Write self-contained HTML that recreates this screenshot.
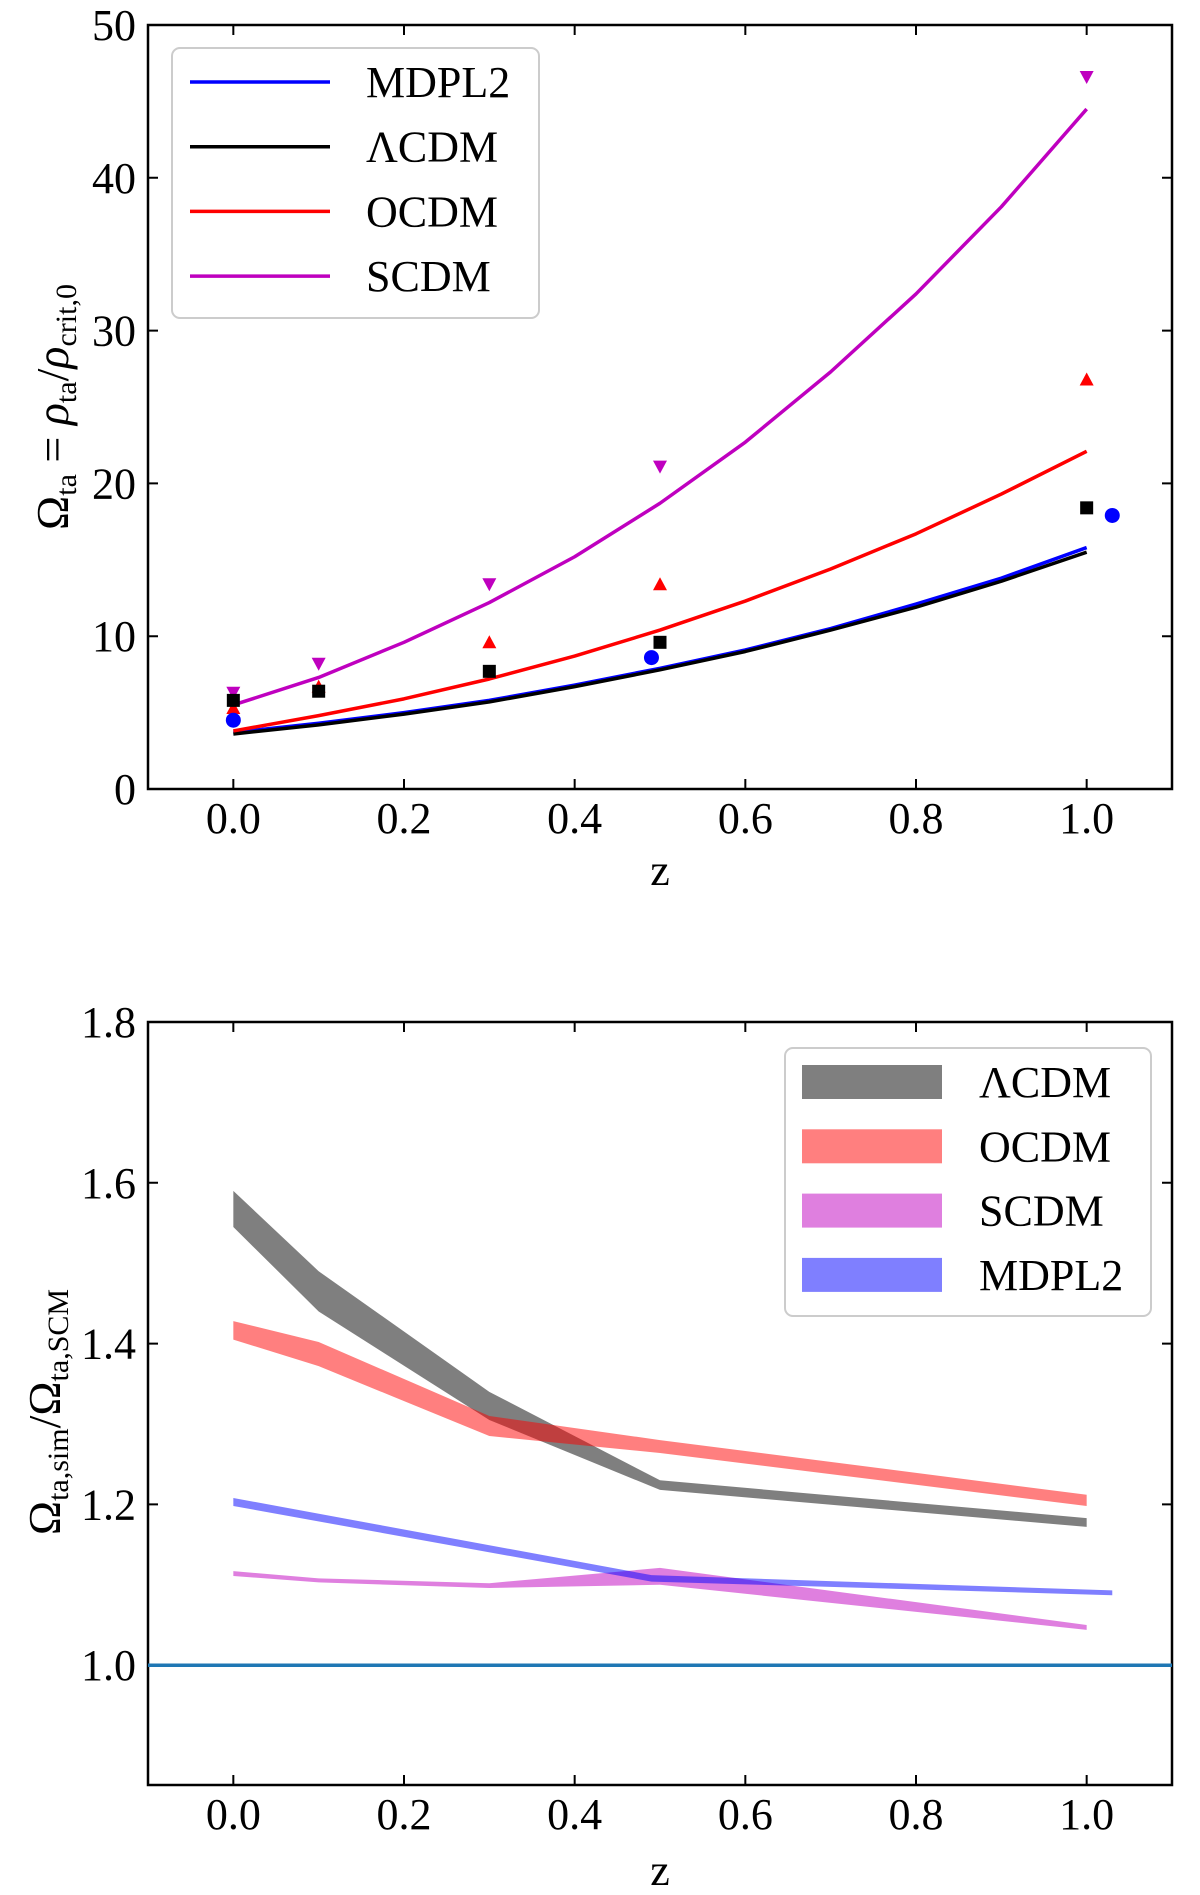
<!DOCTYPE html>
<html><head><meta charset="utf-8"><style>
html,body{margin:0;padding:0;background:#fff}
svg{display:block;font-family:"Liberation Serif","DejaVu Serif",serif}
</style></head><body>
<svg id="fig" width="1200" height="1895" viewBox="0 0 1200 1895" xmlns="http://www.w3.org/2000/svg"></svg>
<script>
// ---- Top panel data ----
const zLine = [0,0.1,0.2,0.3,0.4,0.5,0.6,0.7,0.8,0.9,1.0];
const scdmLine = [5.5,7.3,9.6,12.2,15.2,18.7,22.7,27.3,32.4,38.1,44.5];
const ocdmLine = [3.8,4.8,5.9,7.2,8.7,10.4,12.3,14.4,16.7,19.3,22.1];
const lcdmLine = [3.6,4.2,4.9,5.7,6.7,7.8,9.0,10.4,11.9,13.6,15.5];
const mdplLine = [3.7,4.3,5.0,5.8,6.8,7.9,9.1,10.5,12.1,13.8,15.8];
const zPts = [0,0.1,0.3,0.5,1.0];
const scdmPts = [6.3,8.2,13.4,21.1,46.6];
const ocdmPts = [5.3,6.7,9.6,13.4,26.8];
const lcdmPts = [5.8,6.4,7.7,9.6,18.4];
const zMd = [0,0.49,1.03];
const mdplPts = [4.5,8.6,17.9];
const xTicks = [0,0.2,0.4,0.6,0.8,1.0];
const xTickLabels = ["0.0","0.2","0.4","0.6","0.8","1.0"];
const yTicksTop = [0,10,20,30,40,50];
// ---- Bottom panel data ----
const zBand = [0,0.1,0.3,0.5,1.0];
const lcdmLo = [1.545,1.44,1.305,1.218,1.172];
const lcdmHi = [1.59,1.49,1.34,1.23,1.183];
const ocdmLo = [1.405,1.372,1.285,1.264,1.198];
const ocdmHi = [1.428,1.402,1.31,1.28,1.212];
const scdmLo = [1.111,1.103,1.096,1.1,1.044];
const scdmHi = [1.117,1.108,1.102,1.121,1.05];
const zMdBand = [0,0.49,1.03];
const mdplLo = [1.198,1.104,1.087];
const mdplHi = [1.208,1.112,1.093];
const yTicksBot = [1.0,1.2,1.4,1.6,1.8];
const yTickLabelsBot = ["1.0","1.2","1.4","1.6","1.8"];

const NS="http://www.w3.org/2000/svg";
const svg=document.getElementById('fig');
function mk(tag,attrs,parent){const e=document.createElementNS(NS,tag);for(const k in attrs)e.setAttribute(k,attrs[k]);(parent||svg).appendChild(e);return e;}

const L=148,R=1172;
const xs=z=>L+(z+0.1)/1.2*(R-L);
const T1=25,B1=789;
const y1=v=>B1-v/50*(B1-T1);
const T2=1022,B2=1785,YMIN2=0.851,YMAX2=1.8;
const y2=v=>B2-(v-YMIN2)/(YMAX2-YMIN2)*(B2-T2);

function axes(T,B,yt,ytl,yf,name){
  const g=mk('g',{});
  
  
  xTicks.forEach((t,i)=>{
    const x=xs(t);
    const tk=mk('path',{d:`M${x},${B}v-10M${x},${T}v10`,stroke:'#000','stroke-width':2},g);
    
    
    const tx=mk('text',{x:x,y:B+44,'font-size':44,'text-anchor':'middle'},g);
    tx.textContent=xTickLabels[i];
    
    
  });
  yt.forEach((t,i)=>{
    const y=yf(t);
    const tk=mk('path',{d:`M${L},${y}h10M${R},${y}h-10`,stroke:'#000','stroke-width':2},g);
    
    
    const tx=mk('text',{x:L-12,y:y+15,'font-size':44,'text-anchor':'end'},g);
    tx.textContent=ytl[i];
    
    
  });
  const fr=mk('rect',{x:L,y:T,width:R-L,height:B-T,fill:'none',stroke:'#000','stroke-width':2.5},g);
  
  
}

function line(xsArr,ys,yf,color,name,w){
  const d=xsArr.map((z,i)=>(i?'L':'M')+xs(z)+','+yf(ys[i])).join('');
  const p=mk('path',{d:d,fill:'none',stroke:color,'stroke-width':w||3.5,'stroke-linejoin':'round'});
  
  
}
function band(xsArr,lo,hi,color,name){
  let d=xsArr.map((z,i)=>(i?'L':'M')+xs(z)+','+y2(hi[i])).join('');
  for(let i=xsArr.length-1;i>=0;i--)d+='L'+xs(xsArr[i])+','+y2(lo[i]);
  d+='Z';
  const p=mk('path',{d:d,fill:color,'fill-opacity':0.5,stroke:'none'});
  
  
}

// ---- Top panel ----
axes(T1,B1,yTicksTop,yTicksTop.map(String),y1,'top-panel');
line(zLine,mdplLine,y1,'#0000ff','mdpl2-line');
line(zLine,lcdmLine,y1,'#000000','lcdm-line');
line(zLine,ocdmLine,y1,'#ff0000','ocdm-line');
line(zLine,scdmLine,y1,'#bf00bf','scdm-line');
zPts.forEach((z,i)=>{
  const x=xs(z),y=y1(scdmPts[i]);
  const m=mk('path',{d:`M${x-7},${y-6}L${x+7},${y-6}L${x},${y+7}Z`,fill:'#bf00bf'});
  
  
});
zPts.forEach((z,i)=>{
  const x=xs(z),y=y1(ocdmPts[i]);
  const m=mk('path',{d:`M${x-7},${y+6}L${x+7},${y+6}L${x},${y-7}Z`,fill:'#ff0000'});
  
  
});
zPts.forEach((z,i)=>{
  const x=xs(z),y=y1(lcdmPts[i]);
  const m=mk('rect',{x:x-6.5,y:y-6.5,width:13,height:13,fill:'#000'});
  
  
});
zMd.forEach((z,i)=>{
  const x=xs(z),y=y1(mdplPts[i]);
  const m=mk('circle',{cx:x,cy:y,r:7.5,fill:'#0000ff'});
  
  
});
(function(){
  const g=mk('g',{});
  
  
  mk('rect',{x:172,y:48,width:367,height:270,rx:8,fill:'#fff','fill-opacity':0.8,stroke:'#ccc','stroke-width':2},g);
  const items=[['MDPL2','#0000ff'],['ΛCDM','#000'],['OCDM','#ff0000'],['SCDM','#bf00bf']];
  items.forEach((it,i)=>{
    const y=82+i*64.7;
    const l=mk('line',{x1:190,x2:330,y1:y,y2:y,stroke:it[1],'stroke-width':3.5},g);
    
    
    const t=mk('text',{x:366,y:y+15,'font-size':44},g);
    t.textContent=it[0];
    
    
  });
})();
let t=mk('text',{x:0,y:0,'font-size':46,'text-anchor':'middle',transform:'translate(68,407) rotate(-90)'});
t.innerHTML='Ω<tspan font-size="30" dy="8">ta</tspan><tspan dy="-8"> = </tspan><tspan font-style="italic">ρ</tspan><tspan font-size="30" dy="8">ta</tspan><tspan dy="-8">/</tspan><tspan font-style="italic">ρ</tspan><tspan font-size="30" dy="8">crit,0</tspan>';


t=mk('text',{x:660,y:885,'font-size':44,'text-anchor':'middle'});
t.textContent='z';



// ---- Bottom panel ----
axes(T2,B2,yTicksBot,yTickLabelsBot,y2,'bottom-panel');
band(zBand,lcdmLo,lcdmHi,'#000000','lcdm-band');
band(zBand,ocdmLo,ocdmHi,'#ff0000','ocdm-band');
band(zBand,scdmLo,scdmHi,'#bf00bf','scdm-band');
band(zMdBand,mdplLo,mdplHi,'#0000ff','mdpl2-band');
(function(){
  const y=y2(1.0);
  const l=mk('line',{x1:L,x2:R,y1:y,y2:y,stroke:'#1f77b4','stroke-width':3.5});
  
  
})();
(function(){
  const g=mk('g',{});
  
  
  mk('rect',{x:785,y:1048,width:366,height:268,rx:8,fill:'#fff','fill-opacity':0.8,stroke:'#ccc','stroke-width':2},g);
  const items=[['ΛCDM','#000000'],['OCDM','#ff0000'],['SCDM','#bf00bf'],['MDPL2','#0000ff']];
  items.forEach((it,i)=>{
    const y=1082+i*64.3;
    const r=mk('rect',{x:802,y:y-17,width:140,height:34,fill:it[1],'fill-opacity':0.5},g);
    
    
    const tt=mk('text',{x:979,y:y+15,'font-size':44},g);
    tt.textContent=it[0];
    
    
  });
})();
t=mk('text',{x:0,y:0,'font-size':46,'text-anchor':'middle',transform:'translate(60,1412) rotate(-90)'});
t.innerHTML='Ω<tspan font-size="30" dy="8">ta,sim</tspan><tspan dy="-8">/Ω</tspan><tspan font-size="30" dy="8">ta,SCM</tspan>';


t=mk('text',{x:660,y:1885,'font-size':44,'text-anchor':'middle'});
t.textContent='z';


</script>
</body></html>
